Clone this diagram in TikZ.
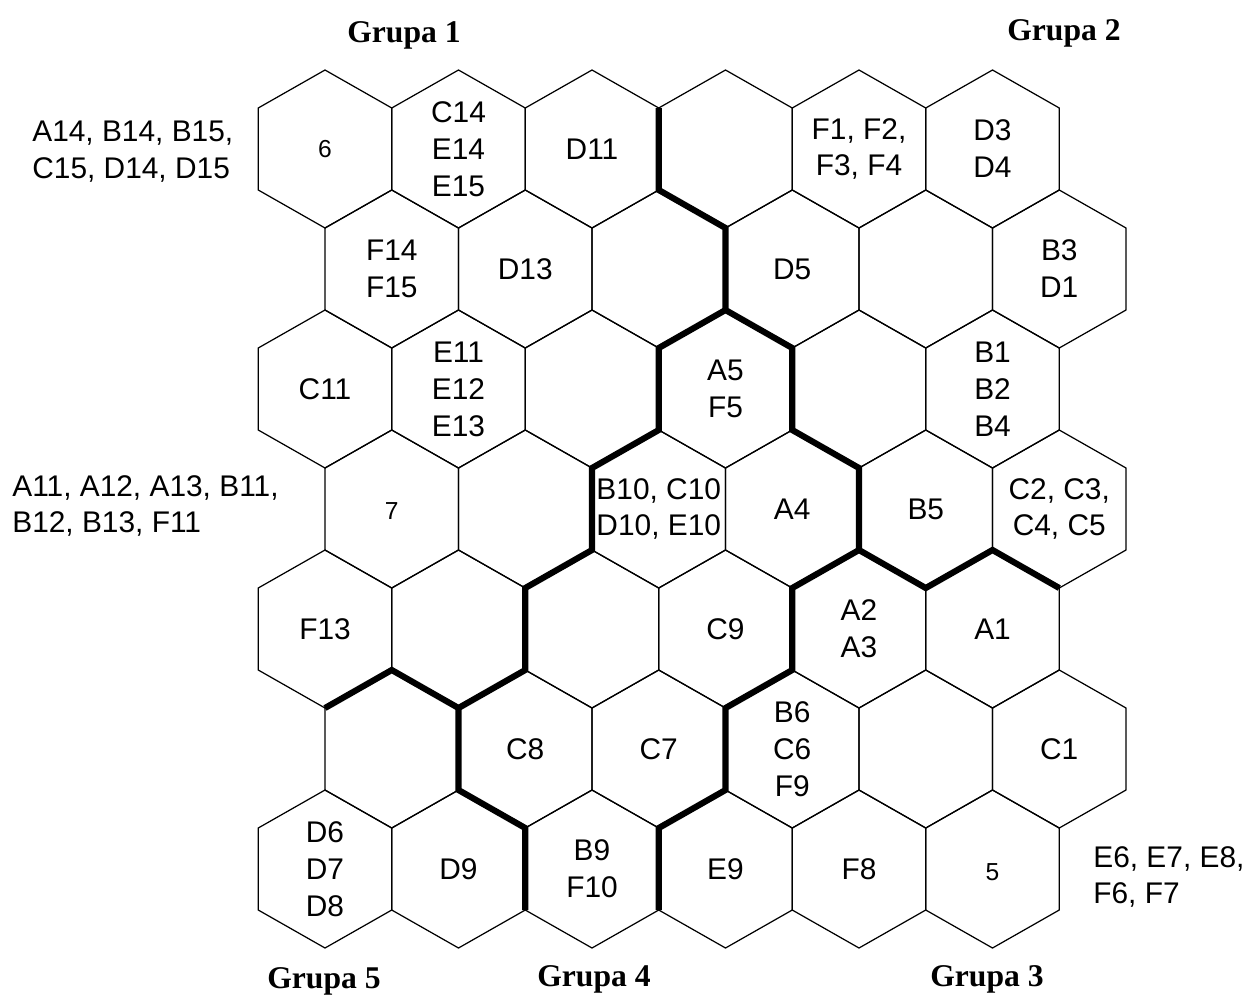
\documentclass[tikz,border=0pt]{standalone}
\usepackage{fontspec}
\setmainfont{Liberation Sans}
\newfontfamily\grupafont{Liberation Serif}

\begin{document}
\begin{tikzpicture}[x=0.02cm, y=-0.02cm,
  hexline/.style={line width=0.7pt},
  groupline/.style={line width=3.5pt, line join=miter},
  celltext/.style={align=center, inner sep=0pt, font=\fontsize{17}{21}\selectfont},
  cellnum/.style={inner sep=0pt, font=\fontsize{14}{16}\selectfont},
  grupa/.style={font=\grupafont\bfseries\fontsize{18}{20}\selectfont},
  sidenote/.style={align=left, anchor=west, inner sep=0pt, font=\fontsize{17}{21}\selectfont}]

  % picture is laid out in pixel units of the 1253 x 998 frame (y down)
  \useasboundingbox (0,0) rectangle (1253,998);

  % Hex grid: 7 rows of 6 cells, even rows shifted by half a cell
  \foreach \r in {1,...,7} {
    \foreach \c in {1,...,6} {
      \pgfmathsetmacro{\cx}{325+(\c-1)*133.5+(1-mod(\r,2))*66.75}
      \pgfmathsetmacro{\cy}{149+(\r-1)*120}
      \draw[hexline] (\cx,\cy-79) -- (\cx+66.75,\cy-41) -- (\cx+66.75,\cy+41)
        -- (\cx,\cy+79) -- (\cx-66.75,\cy+41) -- (\cx-66.75,\cy-41) -- cycle;
    }
  }

  % Cell contents (row/column/text), empty cells left out
  \foreach \r/\c/\txt in {1/2/{C14\\E14\\E15}, 1/3/{D11}, 1/5/{F1, F2,\\F3, F4}, 1/6/{D3\\D4},
                          2/1/{F14\\F15}, 2/2/{D13}, 2/4/{D5}, 2/6/{B3\\D1},
                          3/1/{C11}, 3/2/{E11\\E12\\E13}, 3/4/{A5\\F5}, 3/6/{B1\\B2\\B4},
                          4/3/{B10, C10\\D10, E10}, 4/4/{A4}, 4/5/{B5}, 4/6/{C2, C3,\\C4, C5},
                          5/1/{F13}, 5/4/{C9}, 5/5/{A2\\A3}, 5/6/{A1},
                          6/2/{C8}, 6/3/{C7}, 6/4/{B6\\C6\\F9}, 6/6/{C1},
                          7/1/{D6\\D7\\D8}, 7/2/{D9}, 7/3/{B9\\F10}, 7/4/{E9}, 7/5/{F8}} {
    \pgfmathsetmacro{\cx}{325+(\c-1)*133.5+(1-mod(\r,2))*66.75}
    \pgfmathsetmacro{\cy}{149+(\r-1)*120}
    \node[celltext] (h\r\c) at (\cx,\cy) {\txt};
  }
  \node[cellnum] (h11) at (325,149) {6};
  \node[cellnum] (h41) at (391.75,511) {7};
  \node[cellnum] (h76) at (992.5,872) {5};

  % Borders between the groups
  \draw[groupline] (658.75,108) -- (658.75,190) -- (725.5,228) -- (725.5,310) -- (792.25,348)
    -- (792.25,430) -- (859,468) -- (859,550) -- (925.75,588) -- (992.5,550) -- (1059.25,588);
  \draw[groupline] (725.5,310) -- (658.75,348) -- (658.75,430) -- (592,468) -- (592,550)
    -- (525.25,588) -- (525.25,670) -- (458.5,708) -- (391.75,670) -- (325,708);
  \draw[groupline] (458.5,708) -- (458.5,790) -- (525.25,828) -- (525.25,910);
  \draw[groupline] (859,550) -- (792.25,588) -- (792.25,670) -- (725.5,708) -- (725.5,790)
    -- (658.75,828) -- (658.75,910);

  % Group names
  \node[grupa] (g1) at (404,35) {Grupa 1};
  \node[grupa] (g2) at (1064,33) {Grupa 2};
  \node[grupa] (g3) at (987,979) {Grupa 3};
  \node[grupa] (g4) at (594,979) {Grupa 4};
  \node[grupa] (g5) at (324,981) {Grupa 5};

  % Lists beside the grid
  \node[sidenote] (l6) at (32,152) {A14, B14, B15,\\C15, D14, D15};
  \node[sidenote] (l7) at (12,506) {A11, A12, A13, B11,\\B12, B13, F11};
  \node[sidenote] (l5) at (1093,877) {E6, E7, E8,\\F6, F7};
\end{tikzpicture}
\end{document}
